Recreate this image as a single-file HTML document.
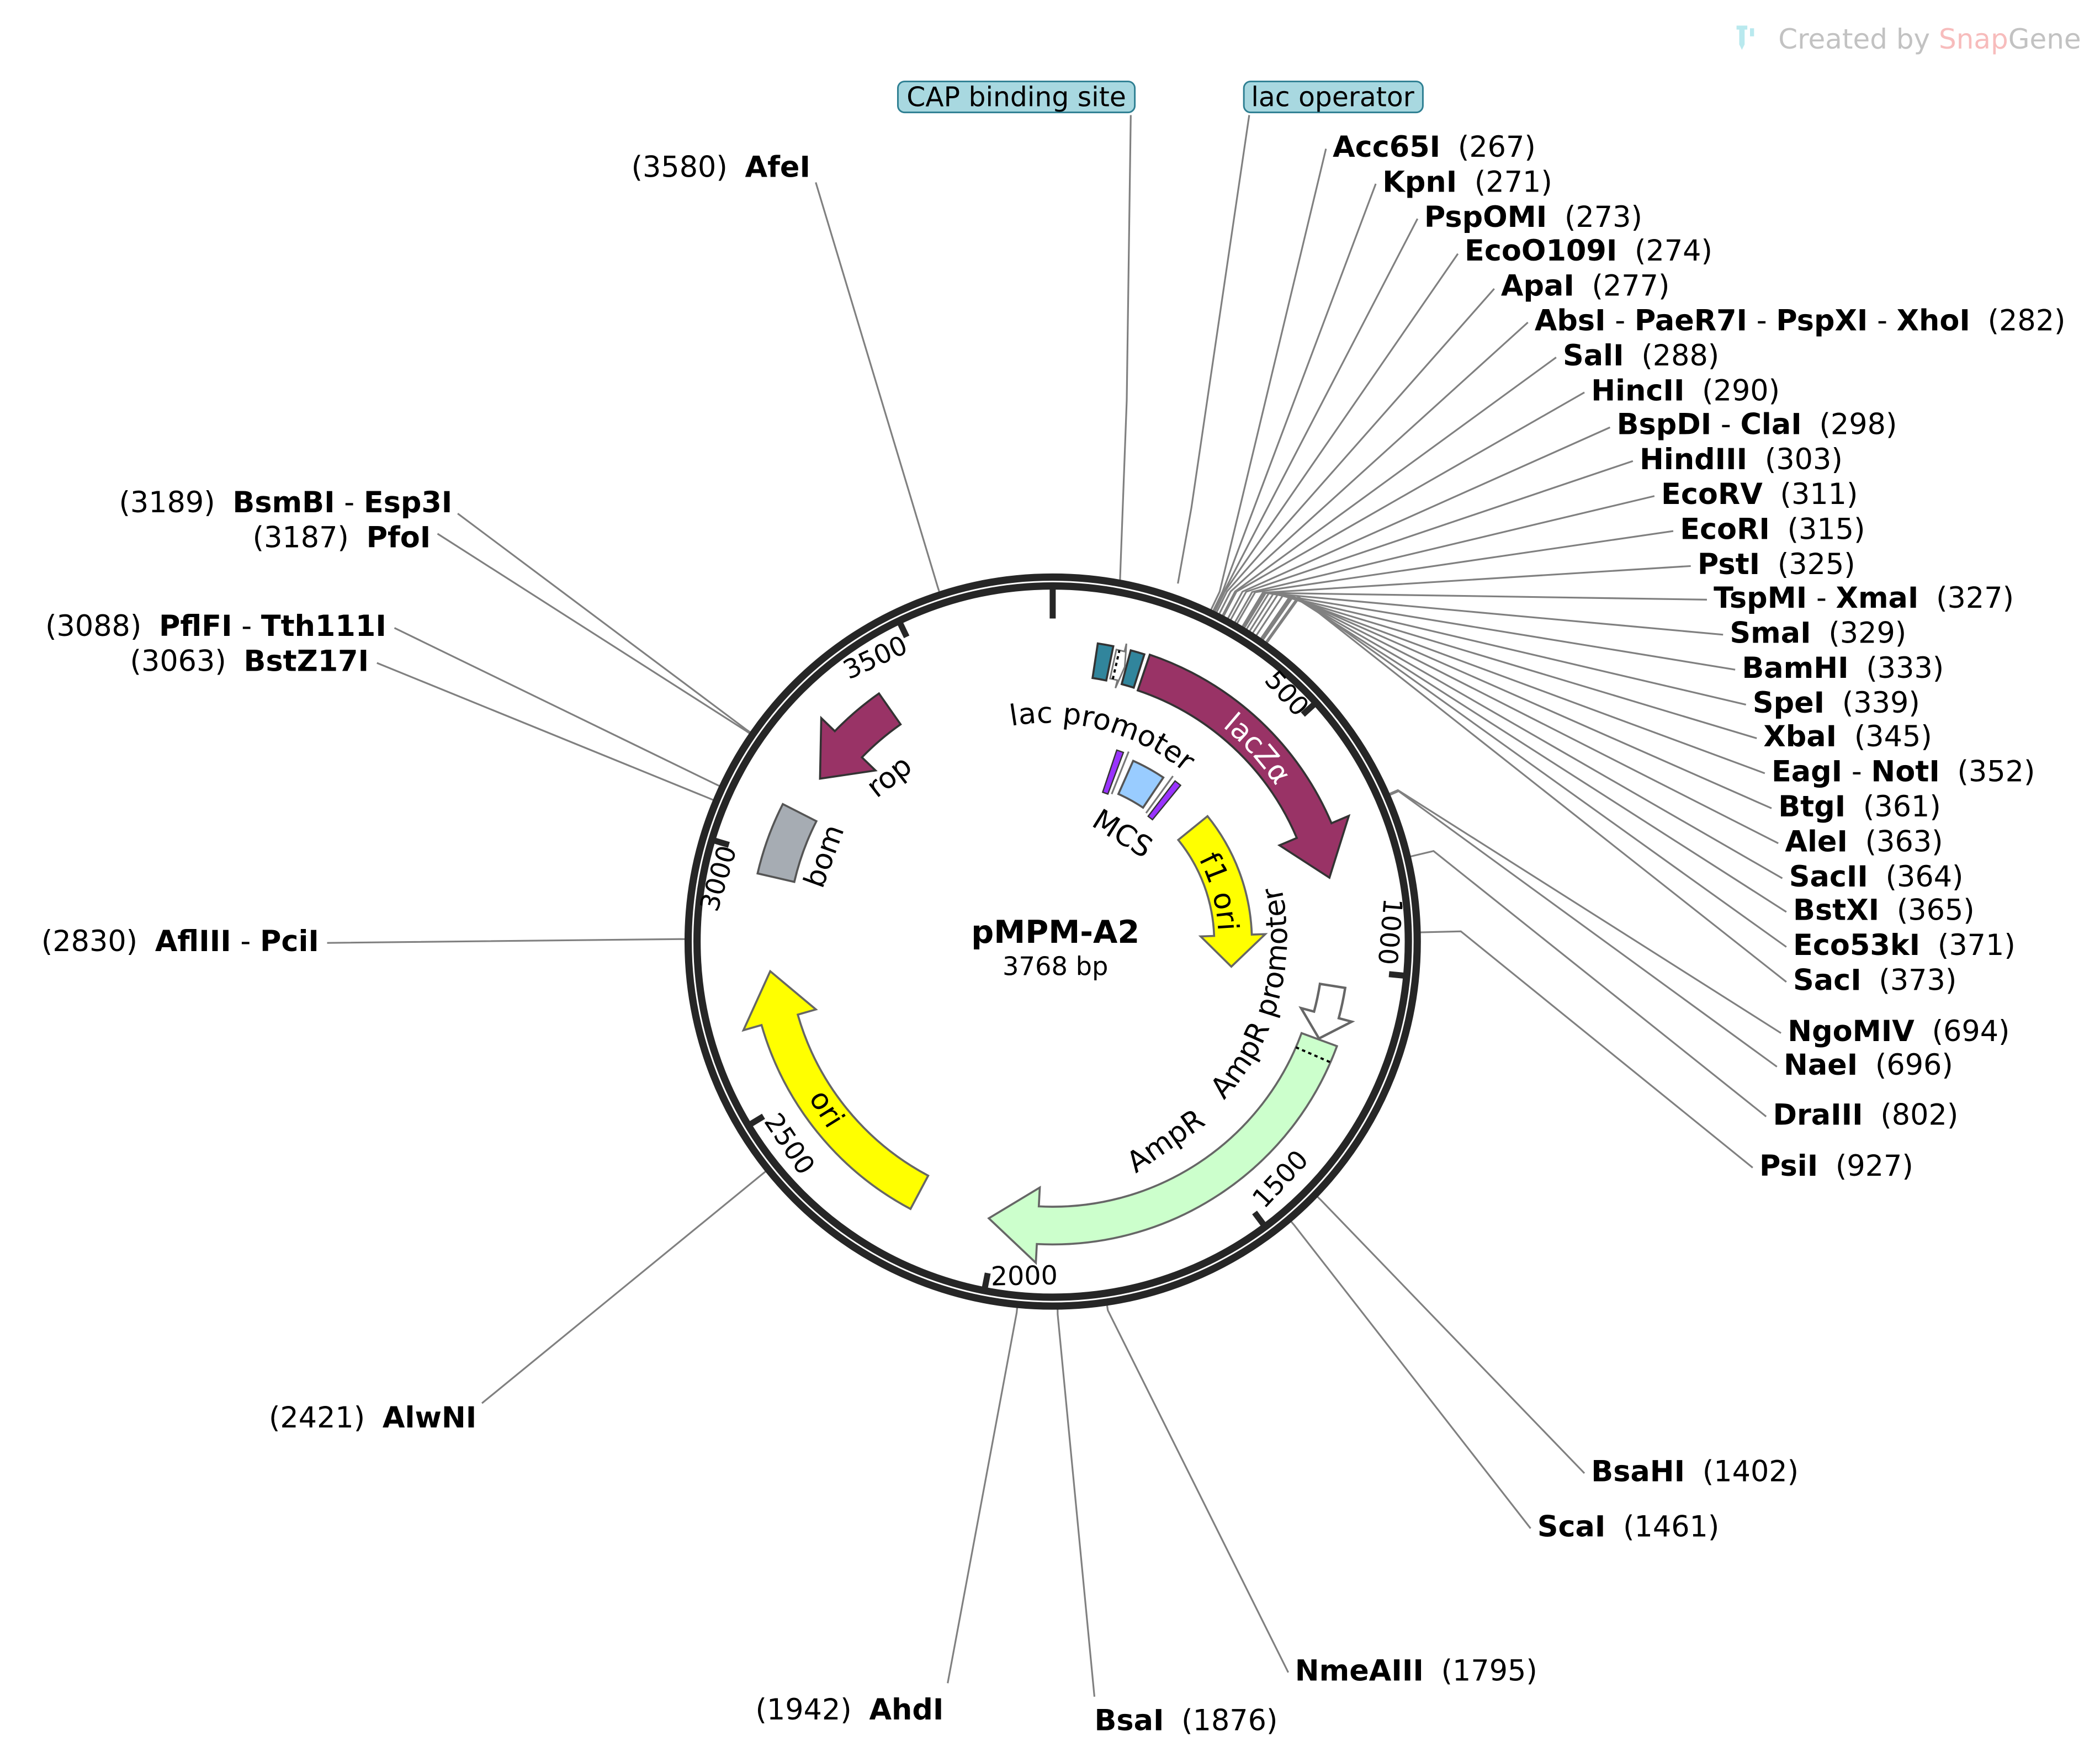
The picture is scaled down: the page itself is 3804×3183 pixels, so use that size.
<!DOCTYPE html>
<html><head><meta charset="utf-8">
<style>
html,body{margin:0;padding:0;background:#fff;}
svg{display:block;}
text{font-family:"DejaVu Sans","Liberation Sans",sans-serif;}
.e{font-size:21.5px;}
.b{font-weight:bold;}
</style></head>
<body>
<svg id="s" width="3804" height="3183" viewBox="0 0 1560 1305.3" xmlns="http://www.w3.org/2000/svg">
<rect width="1560" height="1306" fill="#fff"/>
<defs>
<path id="pLac" d=""/>
<path id="pZ" d=""/>
<path id="pF1" d=""/>
<path id="pAmpP" d=""/>
</defs>
<g transform="translate(-4,-2.5)">
<g id="lines" stroke="#808080" stroke-width="1.3" fill="none"></g>
<g id="shapes"></g>
<circle cx="786" cy="702" r="270.8" fill="none" stroke="#262626" stroke-width="5.4"/>
<circle cx="786" cy="702" r="264.2" fill="none" stroke="#262626" stroke-width="5.4"/>
<g id="ticks" stroke="#262626" stroke-width="4.5"></g>

<g font-size="19.5" fill="#000">
<text transform="translate(955,522) rotate(48)" text-anchor="middle">500</text>
<text transform="translate(1030,694) rotate(95)" text-anchor="middle">1000</text>
<text transform="translate(960,883) rotate(-47)" text-anchor="middle">1500</text>
<text transform="translate(765,957) rotate(-1)" text-anchor="middle">2000</text>
<text transform="translate(585,856) rotate(56)" text-anchor="middle">2500</text>
<text transform="translate(544,657) rotate(-73)" text-anchor="middle">3000</text>
<text transform="translate(657,497) rotate(-25)" text-anchor="middle">3500</text>
</g>

<g font-size="21.5" fill="#000">
<text><textPath href="#pLac" startOffset="50%" text-anchor="middle">lac promoter</textPath></text>
<text fill="#fff"><textPath href="#pZ" startOffset="50%" text-anchor="middle">lacZα</textPath></text>
<text transform="translate(834,628) rotate(32)" text-anchor="middle">MCS</text>
<text><textPath href="#pF1" startOffset="50%" text-anchor="middle">f1 ori</textPath></text>
<text><textPath href="#pAmpP" startOffset="50%" text-anchor="middle">AmpR promoter</textPath></text>
<text transform="translate(874,856) rotate(-35)" text-anchor="middle">AmpR</text>
<text transform="translate(612,830) rotate(58)" text-anchor="middle">ori</text>
<text transform="translate(623,641) rotate(-70)" text-anchor="middle">bom</text>
<text transform="translate(669,585) rotate(-38)" text-anchor="middle">rop</text>
</g>

<text x="788" y="703" text-anchor="middle" font-size="23.5" font-weight="bold">pMPM-A2</text>
<text x="788" y="727" text-anchor="middle" font-size="19">3768 bp</text>

<rect x="671" y="63" width="176" height="23" rx="5" fill="#a8d8e0" stroke="#2e7f92" stroke-width="1.2"/>
<text x="759" y="81.5" text-anchor="middle" font-size="20">CAP binding site</text>
<rect x="928" y="63" width="133" height="23" rx="5" fill="#a8d8e0" stroke="#2e7f92" stroke-width="1.2"/>
<text x="994" y="81.5" text-anchor="middle" font-size="20">lac operator</text>

<g class="e" transform="translate(-5,0)">
<text x="999" y="119"><tspan class="b">Acc65I</tspan><tspan dx="13">(267)</tspan></text>
<text x="1036" y="145"><tspan class="b">KpnI</tspan><tspan dx="13">(271)</tspan></text>
<text x="1067" y="171"><tspan class="b">PspOMI</tspan><tspan dx="13">(273)</tspan></text>
<text x="1097" y="196"><tspan class="b">EcoO109I</tspan><tspan dx="13">(274)</tspan></text>
<text x="1124" y="222"><tspan class="b">ApaI</tspan><tspan dx="13">(277)</tspan></text>
<text x="1149" y="248"><tspan class="b">AbsI</tspan> - <tspan class="b">PaeR7I</tspan> - <tspan class="b">PspXI</tspan> - <tspan class="b">XhoI</tspan><tspan dx="13">(282)</tspan></text>
<text x="1170" y="274"><tspan class="b">SalI</tspan><tspan dx="13">(288)</tspan></text>
<text x="1191" y="300"><tspan class="b">HincII</tspan><tspan dx="13">(290)</tspan></text>
<text x="1210" y="325"><tspan class="b">BspDI</tspan> - <tspan class="b">ClaI</tspan><tspan dx="13">(298)</tspan></text>
<text x="1227" y="351"><tspan class="b">HindIII</tspan><tspan dx="13">(303)</tspan></text>
<text x="1243" y="377"><tspan class="b">EcoRV</tspan><tspan dx="13">(311)</tspan></text>
<text x="1257" y="403"><tspan class="b">EcoRI</tspan><tspan dx="13">(315)</tspan></text>
<text x="1270" y="429"><tspan class="b">PstI</tspan><tspan dx="13">(325)</tspan></text>
<text x="1282" y="454"><tspan class="b">TspMI</tspan> - <tspan class="b">XmaI</tspan><tspan dx="13">(327)</tspan></text>
<text x="1294" y="480"><tspan class="b">SmaI</tspan><tspan dx="13">(329)</tspan></text>
<text x="1303" y="506"><tspan class="b">BamHI</tspan><tspan dx="13">(333)</tspan></text>
<text x="1311" y="532"><tspan class="b">SpeI</tspan><tspan dx="13">(339)</tspan></text>
<text x="1319" y="557"><tspan class="b">XbaI</tspan><tspan dx="13">(345)</tspan></text>
<text x="1325" y="583"><tspan class="b">EagI</tspan> - <tspan class="b">NotI</tspan><tspan dx="13">(352)</tspan></text>
<text x="1330" y="609"><tspan class="b">BtgI</tspan><tspan dx="13">(361)</tspan></text>
<text x="1335" y="635"><tspan class="b">AleI</tspan><tspan dx="13">(363)</tspan></text>
<text x="1338" y="661"><tspan class="b">SacII</tspan><tspan dx="13">(364)</tspan></text>
<text x="1341" y="686"><tspan class="b">BstXI</tspan><tspan dx="13">(365)</tspan></text>
<text x="1341" y="712"><tspan class="b">Eco53kI</tspan><tspan dx="13">(371)</tspan></text>
<text x="1341" y="738"><tspan class="b">SacI</tspan><tspan dx="13">(373)</tspan></text>
<text x="1337" y="776"><tspan class="b">NgoMIV</tspan><tspan dx="13">(694)</tspan></text>
<text x="1334" y="801"><tspan class="b">NaeI</tspan><tspan dx="13">(696)</tspan></text>
<text x="1326" y="838"><tspan class="b">DraIII</tspan><tspan dx="13">(802)</tspan></text>
<text x="1316" y="876"><tspan class="b">PsiI</tspan><tspan dx="13">(927)</tspan></text>
<text x="1191" y="1103"><tspan class="b">BsaHI</tspan><tspan dx="13">(1402)</tspan></text>
<text x="1151" y="1144"><tspan class="b">ScaI</tspan><tspan dx="13">(1461)</tspan></text>
<text x="971" y="1251"><tspan class="b">NmeAIII</tspan><tspan dx="13">(1795)</tspan></text>
<text x="822" y="1288"><tspan class="b">BsaI</tspan><tspan dx="13">(1876)</tspan></text>
</g>
<g class="e" text-anchor="end">
<text x="705" y="1280">(1942)<tspan class="b" dx="13">AhdI</tspan></text>
<text x="358" y="1063">(2421)<tspan class="b" dx="13">AlwNI</tspan></text>
<text x="241" y="709">(2830)<tspan class="b" dx="13">AflIII</tspan> - <tspan class="b">PciI</tspan></text>
<text x="278" y="501">(3063)<tspan class="b" dx="13">BstZ17I</tspan></text>
<text x="291" y="475">(3088)<tspan class="b" dx="13">PflFI</tspan> - <tspan class="b">Tth111I</tspan></text>
<text x="324" y="409">(3187)<tspan class="b" dx="13">PfoI</tspan></text>
<text x="340" y="383">(3189)<tspan class="b" dx="13">BsmBI</tspan> - <tspan class="b">Esp3I</tspan></text>
<text x="606" y="134">(3580)<tspan class="b" dx="13">AfeI</tspan></text>
</g>
</g>

<path d="M1290 19 h8 v3 h-2 v11 l-2 4 l-2 -4 v-11 h-2z M1300 21 h3 v6 h-3z" fill="#b9e9ee"/>
<text x="1321" y="36" font-size="20.5" fill="#c2c2c2">Created by <tspan fill="#f7bcbc">Snap</tspan>Gene</text>

<script>
(function(){
var NS="http://www.w3.org/2000/svg",cx=786,cy=702,L=3768;
function P(a,r){a=a*Math.PI/180;return [cx+r*Math.sin(a),cy-r*Math.cos(a)];}
function f(p){return p[0].toFixed(2)+" "+p[1].toFixed(2);}
function el(g,tag,at){var e=document.createElementNS(NS,tag);for(var k in at)e.setAttribute(k,at[k]);document.getElementById(g).appendChild(e);return e;}
function arcT(a1,a2,r){var cw=a2>a1?1:0,p=P(a1,r),q=P(a2,r);return "M"+(p[0]-4).toFixed(2)+" "+(p[1]-2.5).toFixed(2)+" A"+r+" "+r+" 0 0 "+cw+" "+(q[0]-4).toFixed(2)+" "+(q[1]-2.5).toFixed(2);}
document.getElementById("pLac").setAttribute("d",arcT(-35,65,160));
document.getElementById("pZ").setAttribute("d",arcT(3,93,204));
document.getElementById("pF1").setAttribute("d",arcT(40,110,127));
document.getElementById("pAmpP").setAttribute("d",arcT(158,52,178));
function arrow(a1,a2,r1,r2,h,w){
 var cw=a2>a1?1:0, hs=cw?a2-h:a2+h, m=(r1+r2)/2, lg=Math.abs(hs-a1)>180?1:0;
 return "M"+f(P(a1,r2))+" A"+r2+" "+r2+" 0 "+lg+" "+cw+" "+f(P(hs,r2))+" L"+f(P(hs,r2+w))+" L"+f(P(a2,m))+" L"+f(P(hs,r1-w))+" L"+f(P(hs,r1))+" A"+r1+" "+r1+" 0 "+lg+" "+(1-cw)+" "+f(P(a1,r1))+" Z";}
function box(a1,a2,r1,r2){return "M"+f(P(a1,r2))+" A"+r2+" "+r2+" 0 0 1 "+f(P(a2,r2))+" L"+f(P(a2,r1))+" A"+r1+" "+r1+" 0 0 0 "+f(P(a1,r1))+" Z";}
var tk=[[0,240],[500,251],[1000,251],[1500,251],[2000,251],[2500,251],[3000,251],[3500,251]];
tk.forEach(function(t){var a=t[0]/L*360,p1=P(a,263),p2=P(a,t[1]);el("ticks","line",{x1:p1[0],y1:p1[1],x2:p2[0],y2:p2[1]});});
el("shapes","path",{d:arrow(18.7,77,197,225,10,14),fill:"#993366",stroke:"#333",'stroke-width':1.5});
el("shapes","path",{d:arrow(51,98,120,148,10,10),fill:"#ffff00",stroke:"#666",'stroke-width':1.5});
el("shapes","path",{d:arrow(99,110,201,220,5,10),fill:"#fff",stroke:"#666",'stroke-width':1.8});
el("shapes","path",{d:arrow(110.2,193,197,225,10,14),fill:"#ccffcc",stroke:"#666",'stroke-width':1.5});
el("shapes","path",{d:arrow(208,264,197,225,10,14),fill:"#ffff00",stroke:"#666",'stroke-width':1.5});
el("shapes","path",{d:arrow(325,305,197,225,9,14),fill:"#993366",stroke:"#333",'stroke-width':1.5});
el("shapes","path",{d:box(283,297,197,225),fill:"#a6acb3",stroke:"#555",'stroke-width':1.5});
el("shapes","path",{d:box(8.6,11.6,198,224),fill:"#31859c",stroke:"#333",'stroke-width':1.5});
el("shapes","path",{d:box(15,17.7,198,224),fill:"#31859c",stroke:"#333",'stroke-width':1.5});
el("shapes","path",{d:arrow(12.3,14.7,200,222,0.8,6),fill:"#fff",stroke:"#777",'stroke-width':1.2});
var d1=P(12.9,200),d2=P(12.9,222),d3=P(113.5,197),d4=P(113.5,225);
el("shapes","line",{x1:d1[0],y1:d1[1],x2:d2[0],y2:d2[1],stroke:"#000",'stroke-width':1.6,'stroke-dasharray':'2.5 2.5'});
el("shapes","line",{x1:d3[0],y1:d3[1],x2:d4[0],y2:d4[1],stroke:"#000",'stroke-width':1.6,'stroke-dasharray':'2.5 2.5'});
el("shapes","path",{d:box(24,34,120,147),fill:"#99ccff",stroke:"#555",'stroke-width':1.5});
[19.5,38.3].forEach(function(a){el("shapes","path",{d:box(a-1,a+1,117,150),fill:"#9933ff",stroke:"#333",'stroke-width':1});});
[21.8,36].forEach(function(a){var p=P(a,118),q=P(a,152);el("shapes","line",{x1:p[0],y1:p[1],x2:q[0],y2:q[1],stroke:"#777",'stroke-width':1.3});});
var R=[[267,994,113],[271,1031,139],[273,1062,165],[274,1092,191],[277,1119,217],[282,1144,242],[288,1165,268],[290,1186,294],[298,1205,320],[303,1222,345],[311,1238,371],[315,1252,397],[325,1265,423],[327,1277,448],[329,1289,474],[333,1298,500],[339,1306,526],[345,1314,551],[352,1320,577],[361,1325,603],[363,1330,629],[364,1333,655],[365,1336,680],[371,1336,706],[373,1336,732],[694,1332,770],[696,1329,795],[802,1321,832],[927,1311,870],[1402,1186,1097],[1461,1146,1138],[1795,966,1245],[1876,822,1263]];
R.forEach(function(e){e[1]-=5;});
R=R.concat([[1942,708,1253],[2421,362,1045],[2830,247,703],[3063,284,495],[3088,297,469],[3187,329,399],[3189,344,384],[3580,610,138]]);
R.forEach(function(e){var a=e[0]/L*360,p=P(a,273),q=P(a,(e[0]>600&&e[0]<1000)?280+(e[0]-694)/10:(e[0]<400?288+(e[0]-267)/4:277));
 el("lines","path",{d:"M"+f(p)+" L"+f(q)+" L"+e[1]+" "+e[2]});});
el("lines","path",{d:"M844 88 L841 300 L836 434"});
el("lines","path",{d:"M932 88 L889 380 L879 436"});
})();
</script>
</svg>
</body></html>
